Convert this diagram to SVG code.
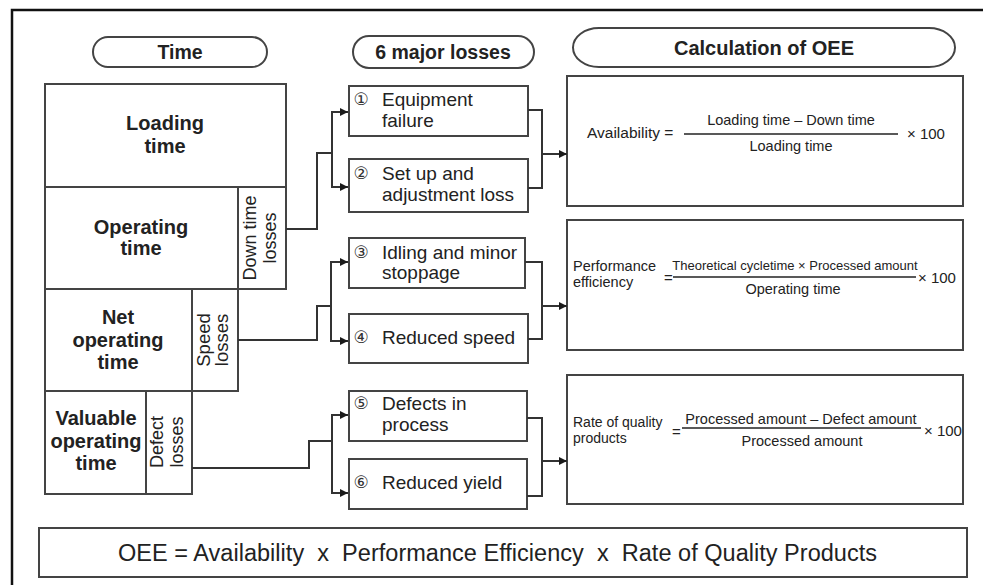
<svg xmlns="http://www.w3.org/2000/svg" width="983" height="585" viewBox="0 0 983 585">
<defs>
<marker id="arr" viewBox="0 0 10 10" refX="10" refY="5" markerWidth="10" markerHeight="8" markerUnits="userSpaceOnUse" orient="auto">
<path d="M0,0 L10,5 L0,10 z" fill="#1a1a1a"/>
</marker>
<style>
.box{fill:#fff;stroke:#444;stroke-width:2}
.pill{fill:#fff;stroke:#444;stroke-width:2}
.con{fill:none;stroke:#333;stroke-width:2}
.t{font-family:"Liberation Sans",Arial,sans-serif;fill:#222}
.hb{font-weight:bold;font-size:19.5px;text-anchor:middle}
.bb{font-weight:bold;font-size:20px;text-anchor:middle}
.rot{font-size:18px;text-anchor:middle}
.lt{font-size:19px}
.num{font-family:"DejaVu Sans","Noto Sans CJK JP",sans-serif;font-size:17px;fill:#333;text-anchor:middle}
.f{font-size:14.5px}
.fm{text-anchor:middle}
.fl{stroke:#222;stroke-width:1.5}
</style>
</defs>
<rect width="983" height="585" fill="#fff"/>
<path d="M12,585 V10 H983" fill="none" stroke="#111" stroke-width="2.5"/>

<g id="hdr-time"><rect class="pill" x="93" y="37" width="174" height="30" rx="15"/><text class="t hb" x="180" y="59">Time</text></g>
<g id="hdr-losses"><rect class="pill" x="353" y="36" width="181" height="32" rx="16"/><text class="t hb" x="443" y="59">6 major losses</text></g>
<g id="hdr-calc"><rect class="pill" x="573" y="28" width="382" height="39" rx="26" ry="19.5"/><text class="t hb" x="764" y="55" style="font-size:20px">Calculation of OEE</text></g>

<g id="loading"><rect class="box" x="45" y="84" width="241" height="103"/><text class="t bb" x="165"><tspan x="165" y="130">Loading</tspan><tspan x="165" y="153">time</tspan></text></g>
<g id="operating"><rect class="box" x="45" y="187" width="193" height="102"/><text class="t bb"><tspan x="141" y="234">Operating</tspan><tspan x="141" y="255">time</tspan></text></g>
<g id="downtime"><rect class="box" x="238" y="187" width="48" height="102"/><text class="t rot" transform="translate(262,238) rotate(-90)"><tspan x="0" y="-6">Down time</tspan><tspan x="0" y="14">losses</tspan></text></g>
<g id="netop"><rect class="box" x="45" y="289" width="147" height="102"/><text class="t bb"><tspan x="118" y="324">Net</tspan><tspan x="118" y="347">operating</tspan><tspan x="118" y="369">time</tspan></text></g>
<g id="speed"><rect class="box" x="192" y="289" width="46" height="102"/><text class="t rot" style="font-size:18.5px" transform="translate(215,340) rotate(-90)"><tspan x="0" y="-5">Speed</tspan><tspan x="0" y="13">losses</tspan></text></g>
<g id="valuable"><rect class="box" x="45" y="391" width="101" height="103"/><text class="t bb"><tspan x="96" y="425">Valuable</tspan><tspan x="96" y="448">operating</tspan><tspan x="96" y="470">time</tspan></text></g>
<g id="defect"><rect class="box" x="146" y="391" width="46" height="103"/><text class="t rot" transform="translate(169,442) rotate(-90)"><tspan x="0" y="-6">Defect</tspan><tspan x="0" y="14">losses</tspan></text></g>

<g id="loss1"><rect class="box" x="349" y="86" width="179" height="50"/><text class="num" x="361" y="105">①</text><text class="t lt"><tspan x="382" y="106">Equipment</tspan><tspan x="382" y="127">failure</tspan></text></g>
<g id="loss2"><rect class="box" x="349" y="159" width="179" height="53"/><text class="num" x="361" y="179">②</text><text class="t lt"><tspan x="382" y="180">Set up and</tspan><tspan x="382" y="201">adjustment loss</tspan></text></g>
<g id="loss3"><rect class="box" x="349" y="238" width="176" height="50"/><text class="num" x="361" y="258">③</text><text class="t lt"><tspan x="382" y="259">Idling and minor</tspan><tspan x="382" y="279">stoppage</tspan></text></g>
<g id="loss4"><rect class="box" x="349" y="314" width="179" height="49"/><text class="num" x="361" y="343">④</text><text class="t lt"><tspan x="382" y="344">Reduced speed</tspan></text></g>
<g id="loss5"><rect class="box" x="349" y="391" width="178" height="50"/><text class="num" x="361" y="409">⑤</text><text class="t lt"><tspan x="382" y="410">Defects in</tspan><tspan x="382" y="431">process</tspan></text></g>
<g id="loss6"><rect class="box" x="349" y="459" width="178" height="50"/><text class="num" x="361" y="488">⑥</text><text class="t lt"><tspan x="382" y="489">Reduced yield</tspan></text></g>

<g id="calc-availability"><rect class="box" x="567" y="76" width="396" height="130"/>
<text class="t" x="587" y="138" style="font-size:15.5px">Availability =</text>
<line class="fl" x1="684" y1="134" x2="898" y2="134"/>
<text class="t f fm" x="791" y="125">Loading time – Down time</text>
<text class="t f fm" x="791" y="151">Loading time</text>
<text class="t" x="907" y="139" style="font-size:15px">× 100</text></g>

<g id="calc-performance"><rect class="box" x="567" y="220" width="396" height="130"/>
<text class="t f"><tspan x="573" y="271">Performance</tspan><tspan x="573" y="287">efficiency</tspan></text>
<text class="t" x="664" y="283" style="font-size:15px">=</text>
<line class="fl" x1="673" y1="277" x2="916" y2="277"/>
<text class="t fm" x="795" y="270" style="font-size:13px">Theoretical cycletime × Processed amount</text>
<text class="t f fm" x="793" y="294">Operating time</text>
<text class="t" x="918" y="283" style="font-size:15px">× 100</text></g>

<g id="calc-quality"><rect class="box" x="567" y="375" width="396" height="129"/>
<text class="t" style="font-size:14px"><tspan x="573" y="427">Rate of quality</tspan><tspan x="573" y="443">products</tspan></text>
<text class="t" x="672" y="437" style="font-size:15px">=</text>
<line class="fl" x1="682" y1="428" x2="921" y2="428"/>
<text class="t f fm" x="801" y="424">Processed amount – Defect amount</text>
<text class="t f fm" x="802" y="446">Processed amount</text>
<text class="t" x="924" y="436" style="font-size:15px">× 100</text></g>

<g id="oee"><rect class="box" x="39" y="528" width="928" height="49"/><text class="t" x="118" y="561" style="font-size:23.5px;white-space:pre" xml:space="preserve" textLength="759" lengthAdjust="spacing">OEE = Availability  x  Performance Efficiency  x  Rate of Quality Products</text></g>

<g id="connectors">
<path class="con" d="M286,229 H317 V153 H332 V112 H348" marker-end="url(#arr)"/>
<path class="con" d="M332,153 V187 H348" marker-end="url(#arr)"/>
<path class="con" d="M238,340 H317 V306 H331 V262 H348" marker-end="url(#arr)"/>
<path class="con" d="M331,306 V341 H348" marker-end="url(#arr)"/>
<path class="con" d="M192,468 H309 V441 H332 V415 H348" marker-end="url(#arr)"/>
<path class="con" d="M332,441 V493 H348" marker-end="url(#arr)"/>
<path class="con" d="M528,110 H542 V188 H528"/>
<path class="con" d="M542,154 H567" marker-end="url(#arr)"/>
<path class="con" d="M525,262 H542 V339 H528"/>
<path class="con" d="M542,306 H567" marker-end="url(#arr)"/>
<path class="con" d="M527,418 H542 V496 H527"/>
<path class="con" d="M542,461 H567" marker-end="url(#arr)"/>
</g>
</svg>
